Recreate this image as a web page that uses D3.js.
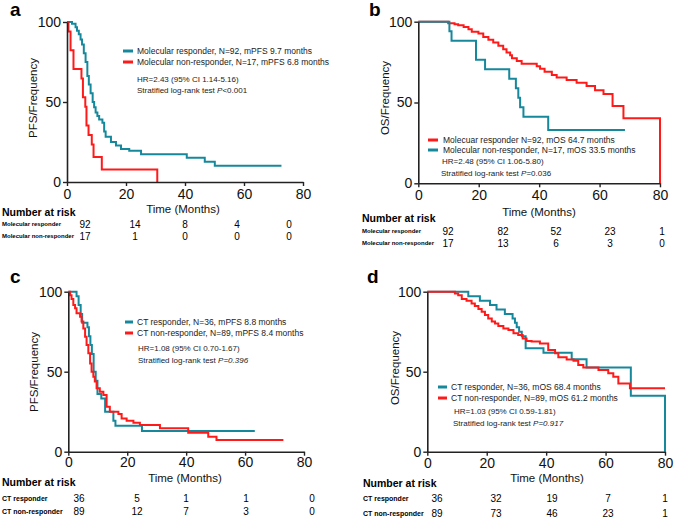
<!DOCTYPE html>
<html>
<head>
<meta charset="utf-8">
<script src="https://cdn.jsdelivr.net/npm/d3@7"></script>
<style>
  html, body { margin: 0; padding: 0; background: #fff; }
  svg { display: block; font-family: "Liberation Sans", Arial, sans-serif; }
</style>
</head>
<body>
<svg id="chart" width="685" height="522"></svg>
<script>
// ---------- DATA ----------
const xTicks = [0, 20, 40, 60, 80];
const yTicks = [0, 50, 100];
const riskTimes = [0, 20, 40, 60, 80];

// Panel a: PFS by molecular response  [month, survival %]
const pfsMolResponder = [[0,100],[1.7,98.9],[2.9,96.7],[3.4,94.6],[4,92.4],[4.6,89.1],[5.1,85.9],[5.7,80.4],[6.3,75],[6.9,66.3],[7.4,60.9],[8,55.4],[8.7,50],[9.2,46.7],[9.7,43.5],[10.3,41.3],[10.9,39.1],[12,37],[12.6,31.5],[13.1,28.3],[14.9,25],[16.6,22.8],[18.3,20.7],[21.1,19.6],[25.1,17.4],[40.6,15.2],[46.7,12.7],[50.1,10.1],[72.7,10.1]];
const pfsMolNonResponder = [[0,100],[0.5,94.1],[1.2,82.4],[2.2,70.6],[4.9,64.7],[5.4,52.9],[6.2,47.1],[6.6,35.3],[7.3,29.4],[8.4,23.5],[9,15.7],[11.8,7.8],[30.6,0]];
const riskA_resp = [92, 14, 8, 4, 0];
const riskA_non = [17, 1, 0, 0, 0];

// Panel b: OS by molecular response
const osMolResponder = [[0,100],[9.9,99],[12,98.4],[13.2,97.8],[15,96.7],[16.6,95.3],[17.7,93.8],[19.9,92.7],[21.5,90.5],[23.2,88.9],[24.8,87.2],[26.5,85.1],[28.1,83],[29.2,80.9],[30.4,79.3],[31,77.4],[32.6,75.7],[34.2,74],[39.2,72.5],[40.3,70.9],[41.8,69],[44.2,67],[45.8,65.5],[49.1,63.9],[52.4,62.2],[55.7,60.2],[58.5,57.6],[61.3,55.2],[64.3,47.8],[67.9,40.3],[80,0]];
const osMolNonResponder = [[0,100],[10.3,94.1],[11,88.2],[19.1,76.5],[22.1,70.6],[30.1,64.7],[32.3,58.8],[33.1,52.9],[33.7,47.1],[34.8,41.2],[43,33],[68.4,33]];
const riskB_resp = [92, 82, 52, 23, 1];
const riskB_non = [17, 13, 6, 3, 0];

// Panel c: PFS by CT response
const pfsCtResponder = [[0,100],[2.8,97.2],[3.5,91.7],[4.2,86.1],[4.7,80.6],[6.5,77.8],[7,72.2],[7.5,66.7],[8,61.1],[8.6,50],[9.3,44.4],[9.9,36.1],[11.2,33.3],[12.5,25],[15.3,19.4],[16,16.2],[25,13],[63.3,13]];
const pfsCtNonResponder = [[0,100],[0.6,97.8],[1.1,95.5],[1.7,91.7],[2.3,89.6],[2.8,86.5],[4,84.4],[4.5,81.3],[5.1,77],[5.7,71.9],[6.2,66.7],[6.8,61.5],[7.4,55.2],[7.9,50],[8.5,46.9],[9,43.8],[9.6,39.6],[10.7,37.5],[11.9,35.4],[13,28.1],[14.1,25],[17,23.5],[18.1,20.8],[19.8,19.4],[22.1,18.1],[24.3,16.7],[31.1,14.6],[40.7,11.9],[47.5,9.4],[50.3,7.3],[73,7.3]];
const riskC_resp = [36, 5, 1, 1, 0];
const riskC_non = [89, 12, 7, 3, 0];

// Panel d: OS by CT response
const osCtResponder = [[0,100],[13.8,97.2],[17.7,94.4],[21.1,91.7],[23.3,88.9],[26.1,86.1],[28.7,83.3],[29.5,80.6],[30.1,77.8],[30.9,75],[31.8,72.2],[33.1,64.7],[39.1,61.9],[48.6,57.8],[53.6,52.6],[68.5,35],[80,0]];
const osCtNonResponder = [[0,100],[9.3,98.9],[10.4,97.8],[11.6,95.5],[13.2,94.4],[14.9,92.7],[16,91],[17.2,89.2],[18.3,87.5],[19.4,85.4],[20.5,83.3],[21.7,81.3],[22.8,80.2],[23.9,78.5],[25.6,77],[27.3,76],[29,74],[30.6,72.9],[32.1,70.8],[33.4,69.2],[35.1,68.8],[37.9,67.7],[40.7,63.5],[43,61.5],[44.1,59],[46.9,57.7],[49.2,56.9],[50.8,54.2],[52.5,52.7],[57.6,51],[60.9,49],[62.6,46.9],[64.3,42.7],[68.2,39.6],[80,39.6]];
const riskD_resp = [36, 32, 19, 7, 1];
const riskD_non = [89, 73, 46, 23, 1];

// ---------- STYLE ----------
const TEAL = "#16889c";
const RED = "#ff1a1a";

const panels = [
  {
    label: "a", labelPos: [10, 16],
    x: [67, 303], y: [182, 22], xLabY: 193.5, ytitle: "PFS/Frequency", ytitleX: 33, ytitleY: 98,
    timeTitle: [183, 209],
    series: [{data: pfsMolResponder, color: TEAL}, {data: pfsMolNonResponder, color: RED}],
    legend: {sx: [123, 133], tx: 137, ys: [51, 62],
      items: [{text: "Molecular responder, N=92, mPFS 9.7 months", color: TEAL},
              {text: "Molecular non-responder, N=17, mPFS 6.8 months", color: RED}],
      hr: "HR=2.43 (95% CI 1.14-5.16)", hrPos: [137, 79], pPre: "Stratified log-rank test ", pItal: "P", pPost: "<0.001", pPos: [137, 90]},
    risk: {title: [2, 212], rows: [{name: "Molecular responder", vals: riskA_resp, y: 224}, {name: "Molecular non-responder", vals: riskA_non, y: 236}],
      cols: [85, 135, 185, 237, 289], nameSize: 6}
  },
  {
    label: "b", labelPos: [369, 16],
    x: [418.3, 660], y: [183.3, 21.7], xLabY: 195, ytitle: "OS/Frequency", ytitleX: 385, ytitleY: 98,
    timeTitle: [539, 212],
    series: [{data: osMolResponder, color: RED}, {data: osMolNonResponder, color: TEAL}],
    legend: {sx: [428, 438], tx: 443, ys: [140, 150],
      items: [{text: "Molecuar responder N=92, mOS 64.7 months", color: RED},
              {text: "Molecular non-responder, N=17, mOS 33.5 months", color: TEAL}],
      hr: "HR=2.48 (95% CI 1.06-5.80)", hrPos: [442, 161], pPre: "Stratified log-rank test ", pItal: "P", pPost: "=0.036", pPos: [441, 173]},
    risk: {title: [362, 218], rows: [{name: "Molecular responder", vals: riskB_resp, y: 231}, {name: "Molecular non-responder", vals: riskB_non, y: 243}],
      cols: [448, 503, 556, 610, 662], nameSize: 6}
  },
  {
    label: "c", labelPos: [10, 283],
    x: [68.3, 304], y: [451.7, 291.7], xLabY: 462, ytitle: "PFS/Frequency", ytitleX: 34, ytitleY: 372,
    timeTitle: [185, 478],
    series: [{data: pfsCtResponder, color: TEAL}, {data: pfsCtNonResponder, color: RED}],
    legend: {sx: [125, 133], tx: 137, ys: [322, 333],
      items: [{text: "CT responder, N=36, mPFS 8.8 months", color: TEAL},
              {text: "CT non-responder, N=89, mPFS 8.4 months", color: RED}],
      hr: "HR=1.08 (95% CI 0.70-1.67)", hrPos: [138, 348], pPre: "Stratified log-rank test ", pItal: "P=0.396", pPost: "", pPos: [138, 360]},
    risk: {title: [2, 482], rows: [{name: "CT responder", vals: riskC_resp, y: 498}, {name: "CT non-responder", vals: riskC_non, y: 511}],
      cols: [79, 137, 186, 246, 312], nameSize: 7}
  },
  {
    label: "d", labelPos: [367, 283],
    x: [427.3, 665], y: [451.7, 291.7], xLabY: 463, ytitle: "OS/Frequency", ytitleX: 395, ytitleY: 368,
    timeTitle: [547, 478],
    series: [{data: osCtResponder, color: TEAL}, {data: osCtNonResponder, color: RED}],
    legend: {sx: [438, 447], tx: 451, ys: [387, 398],
      items: [{text: "CT responder, N=36, mOS 68.4 months", color: TEAL},
              {text: "CT non-responder, N=89, mOS 61.2 months", color: RED}],
      hr: "HR=1.03 (95% CI 0.59-1.81)", hrPos: [454, 411], pPre: "Stratified log-rank test ", pItal: "P=0.917", pPost: "", pPos: [453, 423]},
    risk: {title: [363, 483], rows: [{name: "CT responder", vals: riskD_resp, y: 498}, {name: "CT non-responder", vals: riskD_non, y: 513}],
      cols: [437, 496, 552, 608, 665], nameSize: 7}
  }
];

const svg = d3.select("#chart");

panels.forEach(p => {
  const g = svg.append("g");
  const x = d3.scaleLinear().domain([0, 80]).range(p.x);
  const y = d3.scaleLinear().domain([0, 100]).range(p.y);

  // curves (drawn first so axes sit on top)
  const line = d3.line().x(d => x(d[0])).y(d => y(d[1])).curve(d3.curveStepAfter);
  p.series.forEach(s => {
    g.append("path").datum(s.data)
      .attr("fill", "none").attr("stroke", s.color).attr("stroke-width", 2)
      .attr("stroke-linejoin", "miter").attr("d", line);
  });

  // axes
  const xAxis = d3.axisBottom(x).tickValues(xTicks).tickSize(4).tickSizeOuter(0).tickPadding(3);
  const yAxis = d3.axisLeft(y).tickValues(yTicks).tickSize(4).tickSizeOuter(0).tickPadding(2);
  const gx = g.append("g").attr("transform", `translate(0,${p.y[0]})`).call(xAxis);
  const gy = g.append("g").attr("transform", `translate(${p.x[0]},0)`).call(yAxis);
  [gx, gy].forEach(ax => {
    ax.select(".domain").attr("stroke", "#222").attr("stroke-width", 1.6);
    ax.selectAll(".tick line").attr("stroke", "#222").attr("stroke-width", 1.4);
    ax.selectAll(".tick text").attr("font-size", 14).attr("fill", "#111")
      .attr("font-family", "Liberation Sans, Arial, sans-serif");
  });
  gx.selectAll(".tick text").attr("dy", null).attr("y", null)
    .attr("transform", null)
    .each(function() { d3.select(this).attr("y", p.xLabY - p.y[0]).attr("dominant-baseline", "central"); });

  // y title
  g.append("text").attr("transform", `translate(${p.ytitleX},${p.ytitleY}) rotate(-90)`)
    .attr("text-anchor", "middle").attr("dominant-baseline", "central")
    .attr("font-size", 11.5).attr("fill", "#111").text(p.ytitle);

  // panel label
  g.append("text").attr("x", p.labelPos[0]).attr("y", p.labelPos[1])
    .attr("font-size", 19).attr("font-weight", "bold").attr("fill", "#000").text(p.label);

  // x title
  g.append("text").attr("x", p.timeTitle[0]).attr("y", p.timeTitle[1])
    .attr("text-anchor", "middle").attr("dominant-baseline", "central")
    .attr("font-size", 11.5).attr("fill", "#111").text("Time (Months)");

  // legend
  const L = p.legend;
  L.items.forEach((it, i) => {
    g.append("line").attr("x1", L.sx[0]).attr("x2", L.sx[1]).attr("y1", L.ys[i]).attr("y2", L.ys[i])
      .attr("stroke", it.color).attr("stroke-width", 3);
    g.append("text").attr("x", L.tx).attr("y", L.ys[i]).attr("dominant-baseline", "central")
      .attr("font-size", 8.5).attr("fill", "#222").text(it.text);
  });
  g.append("text").attr("x", L.hrPos[0]).attr("y", L.hrPos[1]).attr("dominant-baseline", "central")
    .attr("font-size", 8).attr("fill", "#222").text(L.hr);
  const pt = g.append("text").attr("x", L.pPos[0]).attr("y", L.pPos[1]).attr("dominant-baseline", "central")
    .attr("font-size", 8).attr("fill", "#222");
  pt.append("tspan").text(L.pPre);
  pt.append("tspan").attr("font-style", "italic").text(L.pItal);
  if (L.pPost) pt.append("tspan").text(L.pPost);

  // risk table
  const R = p.risk;
  g.append("text").attr("x", R.title[0]).attr("y", R.title[1]).attr("dominant-baseline", "central")
    .attr("font-size", 10.5).attr("font-weight", "bold").attr("fill", "#000").text("Number at risk");
  R.rows.forEach(row => {
    g.append("text").attr("x", R.title[0]).attr("y", row.y).attr("dominant-baseline", "central")
      .attr("font-size", R.nameSize).attr("font-weight", "bold").attr("fill", "#000").text(row.name);
    g.selectAll(null).data(row.vals).enter().append("text")
      .attr("x", (d, i) => R.cols[riskTimes.indexOf(riskTimes[i])])
      .attr("y", row.y).attr("text-anchor", "middle").attr("dominant-baseline", "central")
      .attr("font-size", 10).attr("fill", "#000").text(d => d);
  });
});
</script>
</body>
</html>
